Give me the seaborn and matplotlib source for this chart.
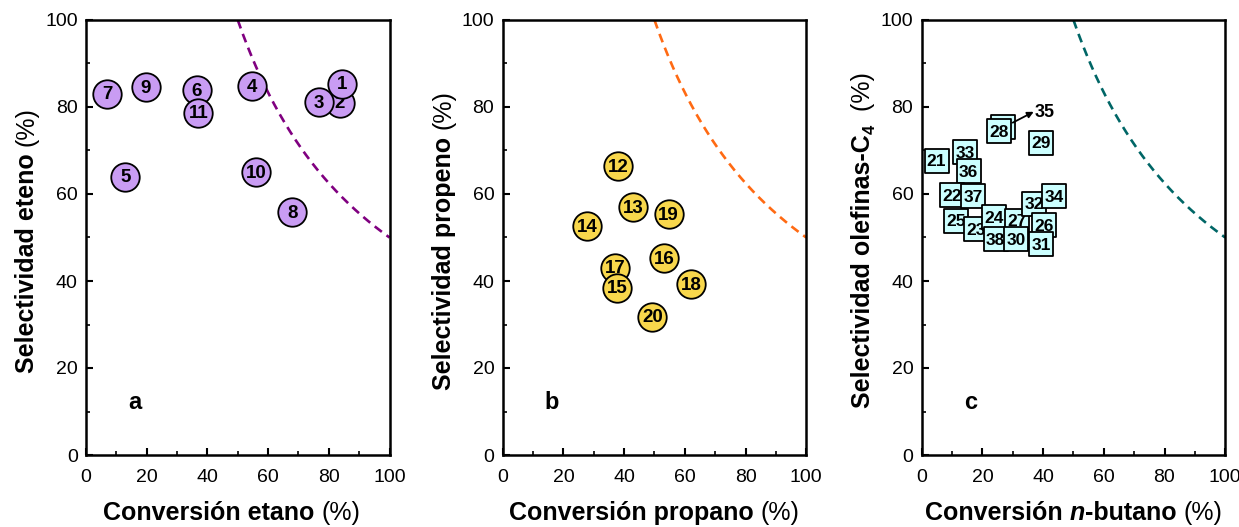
import numpy as np
import pandas as pd
import matplotlib
matplotlib.use("Agg")
import matplotlib.pyplot as plt
import seaborn as sns
from matplotlib.ticker import MultipleLocator

# ---- data (drawing order controls overlap) ----
eth_ids = ["7", "9", "6", "11", "4", "2", "3", "1", "5", "10", "8"]
eth_conv = [7.0, 19.7, 36.5, 37.0, 54.8, 83.7, 76.8, 84.5, 13.0, 56.0, 68.0]
eth_sel = [83.1, 84.5, 83.9, 78.7, 84.8, 81.0, 81.1, 85.4, 64.0, 65.1, 55.9]

prop_ids = ["12", "13", "19", "14", "16", "17", "15", "18", "20"]
prop_conv = [38.1, 42.9, 54.7, 27.9, 53.3, 37.0, 37.8, 62.1, 49.3]
prop_sel = [66.4, 56.9, 55.4, 52.7, 45.2, 43.1, 38.5, 39.3, 31.8]

but_ids = ["21", "33", "36", "22", "37", "25", "23", "24", "38", "27", "30",
           "32", "34", "26", "31", "35", "28", "29"]
but_conv = [4.9, 14.3, 15.5, 10.0, 17.0, 11.3, 17.8, 23.9, 24.4, 31.3, 31.1,
            37.1, 43.7, 40.3, 39.3, 26.9, 25.6, 39.3]
but_sel = [67.7, 69.6, 65.2, 59.7, 59.5, 53.9, 52.0, 54.7, 49.7, 53.9, 49.7,
           57.8, 59.5, 52.8, 48.5, 75.4, 74.4, 71.8]
# labels hidden inside the square (shown outside with an arrow)
but_hidden = ["35"]
label35_pos = (40.6, 78.7)
arrow35_tail = (30.0, 76.4)
arrow35_head = (36.9, 78.9)

# yield = 50 % boundary curve: S = 5000 / X
curve_x = np.linspace(50, 100, 200)
curve_y = 5000.0 / curve_x

panels = [
    dict(ids=eth_ids, x=eth_conv, y=eth_sel, marker="o", s=420, fc="#C99CF3",
         lc="#800080", fs=13.5, letter="a",
         xparts=[("Conversión etano ", "bold", "normal"), ("(%)", "normal", "normal")],
         yparts=[("Selectividad eteno ", "bold", 18, 0), ("(%)", "normal", 18, 0)],
         left=86, xoff=-6),
    dict(ids=prop_ids, x=prop_conv, y=prop_sel, marker="o", s=420, fc="#F8D74C",
         lc="#FF6A13", fs=13.5, letter="b",
         xparts=[("Conversión propano ", "bold", "normal"), ("(%)", "normal", "normal")],
         yparts=[("Selectividad propeno ", "bold", 18, 0), ("(%)", "normal", 18, 0)],
         left=502.7, xoff=0),
    dict(ids=but_ids, x=but_conv, y=but_sel, marker="s", s=275, fc="#CCFFFF",
         lc="#006666", fs=12.5, letter="c",
         xparts=[("Conversión ", "bold", "normal"), ("n", "bold", "italic"),
                 ("-butano ", "bold", "normal"), ("(%)", "normal", "normal")],
         yparts=[("Selectividad olefinas-C", "bold", 18, 0), ("4", "bold", 12, 5),
                 ("  (%)", "normal", 18, 0)],
         left=921.7, xoff=0),
]

sns.set_theme(style="ticks")
plt.rcParams["font.family"] = ["Liberation Sans", "DejaVu Sans"]
for k in ["text.color", "axes.labelcolor", "xtick.color", "ytick.color",
          "axes.edgecolor"]:
    plt.rcParams[k] = "black"

W, H = 1239, 527
fig = plt.figure(figsize=(W / 100, H / 100), dpi=100)
r = fig.canvas.get_renderer()

for p in panels:
    ax = fig.add_axes([p["left"] / W, (H - 455) / H, 303.5 / W, 435 / H])
    df = pd.DataFrame({"x": p["x"], "y": p["y"], "id": p["ids"]})
    for i, row in df.iterrows():
        ax.scatter([row.x], [row.y], s=p["s"], marker=p["marker"], c=p["fc"],
                   edgecolors="black", linewidths=1.3, zorder=3 + 2 * i)
        if row.id not in but_hidden:
            ax.text(row.x, row.y - 0.3, row.id, ha="center", va="center",
                    fontsize=p["fs"], fontweight="bold", zorder=4 + 2 * i)
    sns.lineplot(x=curve_x, y=curve_y, ax=ax, color=p["lc"], lw=1.9,
                 linestyle=(0, (3.4, 2.2)), zorder=2)
    ax.set_xlim(0, 100)
    ax.set_ylim(0, 100)
    ax.xaxis.set_major_locator(MultipleLocator(20))
    ax.yaxis.set_major_locator(MultipleLocator(20))
    ax.xaxis.set_minor_locator(MultipleLocator(10))
    ax.yaxis.set_minor_locator(MultipleLocator(10))
    ax.tick_params(which="major", direction="in", length=5, width=1.5,
                   labelsize=14, colors="black")
    ax.tick_params(axis="x", which="major", pad=10)
    ax.tick_params(axis="y", which="major", pad=6)
    ax.tick_params(which="minor", direction="in", length=3, width=1.2)
    for sp in ax.spines.values():
        sp.set_linewidth(1.8)
        sp.set_color("black")
    ax.text(16, 12, p["letter"], fontsize=17, fontweight="bold",
            ha="center", va="center")
    ax.set_xlabel("")
    ax.set_ylabel("")

    if p["letter"] == "c":
        ax.text(label35_pos[0], label35_pos[1], "35", fontsize=13,
                fontweight="bold", ha="center", va="center", zorder=60)
        ax.annotate("", xy=arrow35_head, xytext=arrow35_tail,
                    arrowprops=dict(arrowstyle="-|>", color="black", lw=1.3,
                                    shrinkA=0, shrinkB=0, mutation_scale=9),
                    zorder=60)

    # x label (mixed weights)
    parts = [fig.text(0, 0, s, fontsize=18, fontweight=w, style=st)
             for s, w, st in p["xparts"]]
    fig.canvas.draw()
    widths = [t.get_window_extent(r).width for t in parts]
    x0 = p["left"] + 151.75 + p["xoff"] - sum(widths) / 2
    for t, w in zip(parts, widths):
        t.set_position((x0 / W, 7 / H))
        t.set_va("baseline")
        x0 += w

    # y label (mixed weights), rotated, common baseline
    yparts = [fig.text(0, 0, s, fontsize=fsz, fontweight=w, rotation=90,
                       rotation_mode="anchor", ha="left", va="baseline")
              for s, w, fsz, off in p["yparts"]]
    fig.canvas.draw()
    heights = [t.get_window_extent(r).height for t in yparts]
    total = sum(heights)
    ycen = H - 240
    ystart = ycen - total / 2
    for t, h, spec in zip(yparts, heights, p["yparts"]):
        xb = (p["left"] - 52 + spec[3]) / W
        t.set_position((xb, ystart / H))
        ystart += h

fig.savefig("out.png", dpi=100)
